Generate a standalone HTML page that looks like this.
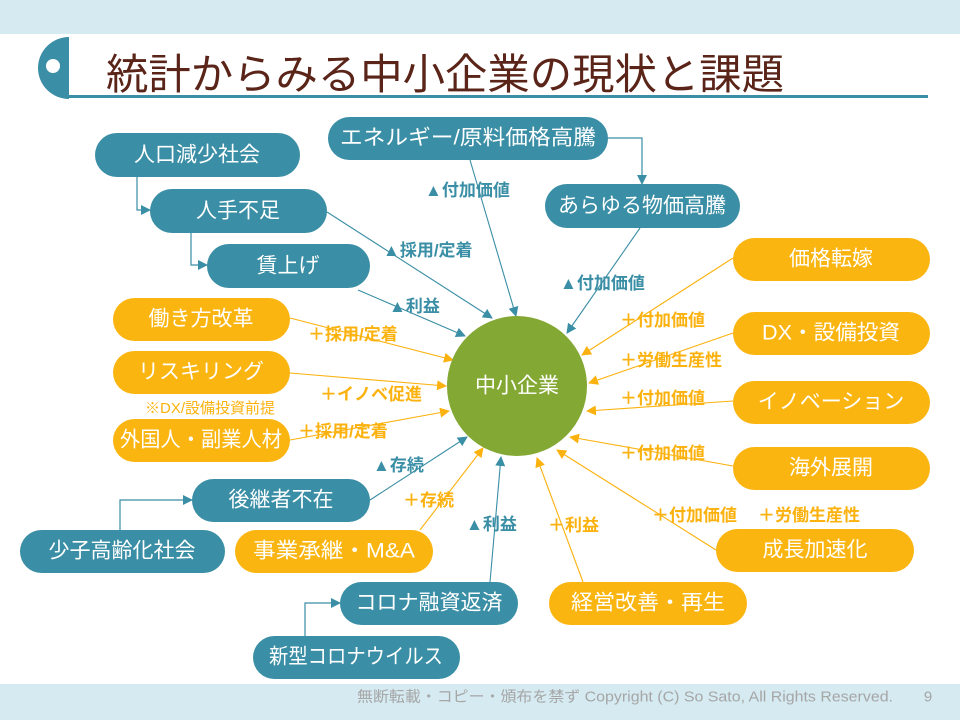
<!DOCTYPE html>
<html><head><meta charset="utf-8"><style>
html,body{margin:0;padding:0;background:#fff;}
svg{display:block;font-family:"Liberation Sans","Noto Sans CJK JP",sans-serif;}
.n{font-size:21px;fill:#fff;text-anchor:middle;dominant-baseline:central;}
.lt{font-size:17px;font-weight:bold;fill:#3a8ea5;}
.lo{font-size:17px;font-weight:bold;fill:#fbb20f;}
</style></head><body>
<svg width="960" height="720" viewBox="0 0 960 720">
<defs>
<marker id="at" markerWidth="10" markerHeight="10" refX="9" refY="5" orient="auto" markerUnits="userSpaceOnUse"><path d="M0,0 L10,5 L0,10 z" fill="#3a8ea5"/></marker>
<marker id="ao" markerWidth="10" markerHeight="10" refX="9" refY="5" orient="auto" markerUnits="userSpaceOnUse"><path d="M0,0 L10,5 L0,10 z" fill="#fbb20f"/></marker>
</defs>
<rect x="0" y="0" width="960" height="34" fill="#d5eaf1"/>
<rect x="0" y="684" width="960" height="36" fill="#d5eaf1"/>
<path d="M69,37 A31,31 0 0 0 69,99 Z" fill="#3a8ea5"/>
<circle cx="53" cy="66" r="7" fill="#fff"/>
<rect x="68" y="95" width="860" height="3" fill="#3a8ea5"/>
<text x="106" y="89" font-size="42" fill="#5a2418" textLength="678" lengthAdjust="spacingAndGlyphs">統計からみる中小企業の現状と課題</text>

<g stroke="#3a8ea5" stroke-width="1.2" fill="none">
<path d="M137,177 V210 H150" marker-end="url(#at)"/>
<path d="M191,233 V265 H207" marker-end="url(#at)"/>
<path d="M608,138 H642 V184" marker-end="url(#at)"/>
<path d="M120,530 V500 H192" marker-end="url(#at)"/>
<path d="M305,636 V603 H340" marker-end="url(#at)"/>
</g>
<g stroke="#3a8ea5" stroke-width="1.1" fill="none" marker-end="url(#at)">
<path d="M327,212 L492,318"/>
<path d="M358,290 L465,336"/>
<path d="M470,160 L516,316"/>
<path d="M640,228 L567,333"/>
<path d="M370,500 L467,437"/>
<path d="M490,582 L501,457"/>
</g>
<g stroke="#fbb20f" stroke-width="1.1" fill="none" marker-end="url(#ao)">
<path d="M290,318 L453,360"/>
<path d="M290,373 L446,386"/>
<path d="M290,440 L449,411"/>
<path d="M733,258 L582,355"/>
<path d="M733,333 L589,383"/>
<path d="M733,401 L587,411"/>
<path d="M733,466 L570,437"/>
<path d="M716,550 L557,450"/>
<path d="M420,530 L483,448"/>
<path d="M583,582 L537,458"/>
</g>

<circle cx="517" cy="386" r="70" fill="#84a834"/>
<text class="n" x="517" y="386">中小企業</text>

<g fill="#3a8ea5">
<rect x="95" y="133" width="205" height="44" rx="22"/>
<rect x="150" y="189" width="177" height="44" rx="22"/>
<rect x="207" y="244" width="163" height="44" rx="22"/>
<rect x="328" y="117" width="280" height="43" rx="21.5"/>
<rect x="545" y="184" width="195" height="44" rx="22"/>
<rect x="192" y="479" width="178" height="43" rx="21.5"/>
<rect x="20" y="530" width="205" height="43" rx="21.5"/>
<rect x="340" y="582" width="178" height="43" rx="21.5"/>
<rect x="253" y="636" width="207" height="43" rx="21.5"/>
</g>
<g fill="#fbb511">
<rect x="733" y="238" width="197" height="43" rx="21.5"/>
<rect x="733" y="312" width="197" height="43" rx="21.5"/>
<rect x="733" y="381" width="197" height="43" rx="21.5"/>
<rect x="733" y="447" width="197" height="43" rx="21.5"/>
<rect x="716" y="529" width="198" height="43" rx="21.5"/>
<rect x="113" y="298" width="177" height="43" rx="21.5"/>
<rect x="113" y="351" width="177" height="43" rx="21.5"/>
<rect x="113" y="419" width="177" height="43" rx="21.5"/>
<rect x="235" y="530" width="198" height="43" rx="21.5"/>
<rect x="549" y="582" width="198" height="43" rx="21.5"/>
</g>
<text class="n" x="197" y="155">人口減少社会</text>
<text class="n" x="238" y="211">人手不足</text>
<text class="n" x="288" y="266">賃上げ</text>
<text class="n" x="468" y="138" textLength="256" lengthAdjust="spacingAndGlyphs">エネルギー/原料価格高騰</text>
<text class="n" x="642" y="206">あらゆる物価高騰</text>
<text class="n" x="281" y="500">後継者不在</text>
<text class="n" x="122" y="551">少子高齢化社会</text>
<text class="n" x="429" y="603">コロナ融資返済</text>
<text class="n" x="356" y="657" textLength="174" lengthAdjust="spacingAndGlyphs">新型コロナウイルス</text>
<text class="n" x="831" y="259">価格転嫁</text>
<text class="n" x="831" y="333" textLength="138" lengthAdjust="spacingAndGlyphs">DX・設備投資</text>
<text class="n" x="831" y="402">イノベーション</text>
<text class="n" x="831" y="468">海外展開</text>
<text class="n" x="815" y="550">成長加速化</text>
<text class="n" x="201" y="319">働き方改革</text>
<text class="n" x="201" y="372">リスキリング</text>
<text class="n" x="201" y="440" textLength="162" lengthAdjust="spacingAndGlyphs">外国人・副業人材</text>
<text class="n" x="334" y="551" textLength="162" lengthAdjust="spacingAndGlyphs">事業承継・M&amp;A</text>
<text class="n" x="648" y="603" textLength="154" lengthAdjust="spacingAndGlyphs">経営改善・再生</text>
<text x="145" y="413" font-size="15" fill="#fbb20f">※DX/設備投資前提</text>

<text class="lt" x="425" y="196">▲付加価値</text>
<text class="lt" x="383" y="256">▲採用/定着</text>
<text class="lt" x="389" y="312">▲利益</text>
<text class="lt" x="560" y="289">▲付加価値</text>
<text class="lt" x="373" y="471">▲存続</text>
<text class="lt" x="466" y="530">▲利益</text>
<text class="lo" x="308" y="340">＋採用/定着</text>
<text class="lo" x="320" y="400">＋イノベ促進</text>
<text class="lo" x="298" y="437">＋採用/定着</text>
<text class="lo" x="620" y="326">＋付加価値</text>
<text class="lo" x="620" y="366">＋労働生産性</text>
<text class="lo" x="620" y="404">＋付加価値</text>
<text class="lo" x="620" y="459">＋付加価値</text>
<text class="lo" x="652" y="521">＋付加価値</text>
<text class="lo" x="758" y="521">＋労働生産性</text>
<text class="lo" x="403" y="506">＋存続</text>
<text class="lo" x="548" y="531">＋利益</text>

<text x="893" y="697" font-size="15" fill="#a6a6a6" text-anchor="end" dominant-baseline="central" textLength="536" lengthAdjust="spacingAndGlyphs">無断転載・コピー・頒布を禁ず  Copyright (C) So Sato, All Rights Reserved.</text>
<text x="928" y="697" font-size="15" fill="#a6a6a6" text-anchor="middle" dominant-baseline="central">9</text>
</svg>
</body></html>
